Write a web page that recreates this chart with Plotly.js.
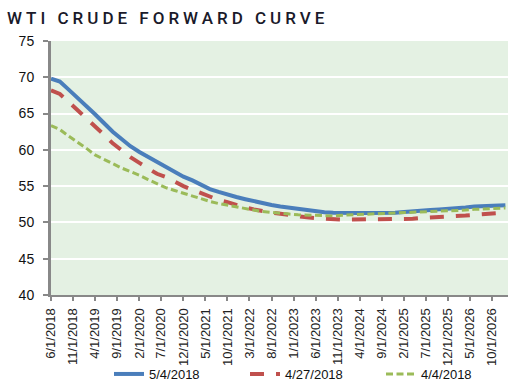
<!DOCTYPE html>
<html>
<head>
<meta charset="utf-8">
<script src="https://cdn.plot.ly/plotly-3.0.1.min.js"></script>
<style>
  html, body { margin: 0; padding: 0; background: #fff; }
  #chart { width: 524px; height: 383px; }
  .gtitle { letter-spacing: 4px; }
</style>
</head>
<body>
<div id="chart"></div>
<script>
// Month offsets from June 2018 (every 2 months, plus the final month)
const monthOffsets = [0,2,4,6,8,10,12,14,16,18,20,22,24,26,28,30,32,34,36,38,40,42,44,46,48,50,
  52,54,56,58,60,62,64,66,68,70,72,74,76,78,80,82,84,86,88,90,92,94,96,98,100,102,103];

const series1Name = "5/4/2018";
const series1 = [69.8,69.4,68.3,67.2,66.1,64.9,63.7,62.5,61.5,60.5,59.7,59.0,58.3,57.6,56.9,56.3,55.8,55.2,
  54.6,54.2,53.8,53.5,53.2,52.9,52.6,52.4,52.2,52.05,51.85,51.65,51.5,51.4,51.35,51.3,51.3,51.3,51.3,51.3,
  51.35,51.35,51.45,51.5,51.6,51.7,51.8,51.85,51.95,52.05,52.2,52.25,52.35,52.35,52.35];

const series2Name = "4/27/2018";
const series2 = [68.2,67.7,66.6,65.5,64.4,63.3,62.1,60.9,59.9,59.0,58.2,57.5,56.7,56.25,55.6,55.0,54.5,54.0,
  53.5,53.1,52.8,52.4,52.05,51.8,51.55,51.35,51.2,51.0,50.85,50.7,50.6,50.5,50.45,50.4,50.4,50.4,50.4,50.4,
  50.4,50.4,50.4,50.5,50.6,50.65,50.7,50.8,50.9,50.95,51.05,51.1,51.2,51.3,51.4];

const series3Name = "4/4/2018";
const series3 = [63.35,62.8,61.9,61.1,60.2,59.3,58.7,58.0,57.5,57.0,56.5,55.9,55.3,54.8,54.4,54.0,53.6,53.3,
  52.9,52.6,52.35,52.15,51.95,51.7,51.5,51.35,51.2,51.15,51.05,51.0,50.95,50.9,50.9,51.0,51.05,51.1,51.15,
  51.15,51.2,51.3,51.3,51.4,51.45,51.5,51.55,51.6,51.65,51.7,51.8,51.85,51.9,51.95,52.0];

const tickLabels = ["6/1/2018","11/1/2018","4/1/2019","9/1/2019","2/1/2020","7/1/2020","12/1/2020",
  "5/1/2021","10/1/2021","3/1/2022","8/1/2022","1/1/2023","6/1/2023","11/1/2023","4/1/2024","9/1/2024",
  "2/1/2025","7/1/2025","12/1/2025","5/1/2026","10/1/2026"];

const yTicks = [40,45,50,55,60,65,70,75];

function monthDate(m) {
  const total = 5 + m; // June = index 5
  const y = 2018 + Math.floor(total / 12);
  const mo = total % 12 + 1;
  return y + "-" + String(mo).padStart(2, "0") + "-01";
}
function labelToDate(s) {
  const p = s.split("/");
  return p[2] + "-" + p[0].padStart(2, "0") + "-" + p[1].padStart(2, "0");
}

const dates = monthOffsets.map(monthDate);

const traces = [
  { x: dates, y: series1, name: series1Name, type: "scatter", mode: "lines",
    line: { color: "#4A7EBB", width: 4 } },
  { x: dates, y: series2, name: series2Name, type: "scatter", mode: "lines",
    line: { color: "#C0504D", width: 4, dash: "14px,12px" } },
  { x: dates, y: series3, name: series3Name, type: "scatter", mode: "lines",
    line: { color: "#9BBB59", width: 3, dash: "7px,3.5px" } }
];

const axisGray = "#888888";
const layout = {
  width: 524, height: 383,
  margin: { l: 51, r: 16, t: 41, b: 88 },
  paper_bgcolor: "#ffffff",
  plot_bgcolor: "#E4F1E3",
  title: {
    text: "WTI CRUDE FORWARD CURVE",
    font: { family: "Roboto", size: 17, color: "#1a1a2a", weight: 500 },
    x: 7 / 524, xanchor: "left", xref: "container",
    y: 1 - 18 / 383, yanchor: "middle", yref: "container"
  },
  xaxis: {
    type: "date",
    range: ["2018-06-01", "2027-01-19"],
    tickmode: "array",
    tickvals: tickLabels.map(labelToDate),
    ticktext: tickLabels,
    tickangle: -90,
    ticks: "outside", ticklen: 4, tickwidth: 2, tickcolor: axisGray,
    showline: true, linecolor: axisGray, linewidth: 2,
    showgrid: false, zeroline: false,
    ticklabelstandoff: 2,
    tickfont: { family: "Liberation Sans", size: 13, color: "#222" },
    fixedrange: true
  },
  yaxis: {
    range: [40, 75],
    tickmode: "array",
    tickvals: yTicks,
    ticks: "outside", ticklen: 5, tickwidth: 2, tickcolor: axisGray,
    showline: true, linecolor: axisGray, linewidth: 3,
    showgrid: true, gridcolor: "#ffffff", gridwidth: 2,
    zeroline: false,
    ticklabelstandoff: 6,
    tickfont: { family: "Liberation Sans", size: 14, color: "#111" },
    fixedrange: true
  },
  showlegend: true,
  legend: {
    orientation: "h",
    xref: "container", x: 109 / 524, xanchor: "left",
    yref: "container", y: 1 - 374 / 383, yanchor: "middle",
    entrywidth: 91, entrywidthmode: "pixels",
    itemwidth: 30,
    font: { family: "Liberation Sans", size: 13, color: "#111" },
    bgcolor: "rgba(0,0,0,0)"
  }
};

Plotly.newPlot("chart", traces, layout, { displayModeBar: false, staticPlot: true });
</script>
</body>
</html>
